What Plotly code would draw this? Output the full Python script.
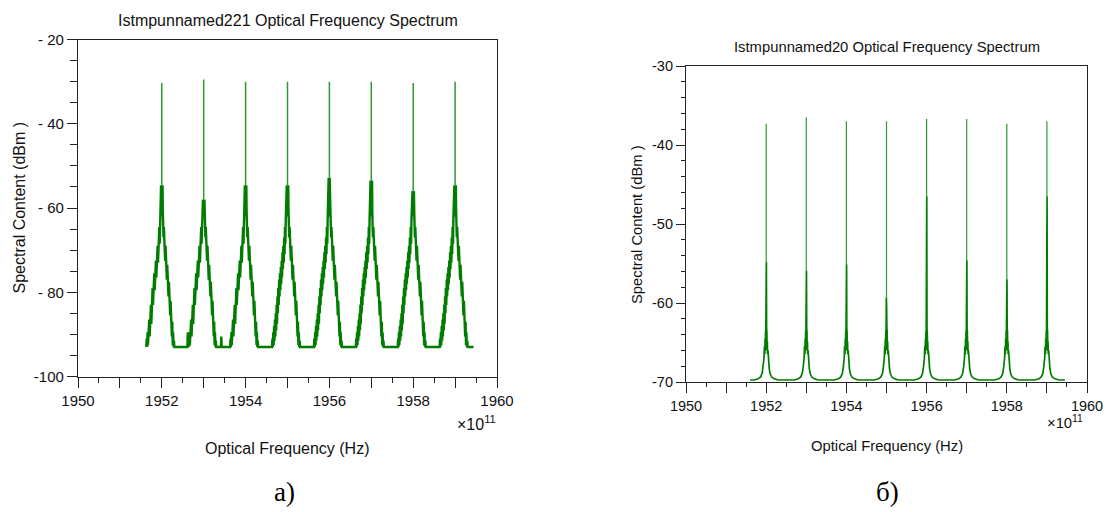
import plotly.graph_objects as go

# ---------------- data ----------------
# frequencies in units of 1e11 Hz
peak_centers = [1952, 1953, 1954, 1955, 1956, 1957, 1958, 1959]

# (a) left spectrum
left_carrier_dbm = [-30.3, -29.5, -30.0, -30.0, -30.0, -30.0, -30.3, -30.0]
left_shoulder_dbm = [-54.6, -58.0, -54.6, -54.6, -52.8, -53.5, -56.0, -54.6]
left_floor_dbm = -93.0
left_span = [1951.63, 1959.44]
# skirt of one comb line (offset from carrier, dBm)
left_skirt_lo_off = [-0.37, -0.36, -0.35, -0.34, -0.33, -0.32, -0.31, -0.30, -0.29, -0.28,
                     -0.27, -0.26, -0.25, -0.24, -0.23, -0.22, -0.21, -0.20, -0.19, -0.18,
                     -0.17, -0.16, -0.15, -0.14, -0.13, -0.12, -0.11, -0.10, -0.09, -0.08,
                     -0.07, -0.06, -0.05, -0.042]
left_skirt_lo_dbm = [-93.0, -91.0, -93.0, -89.5, -92.5, -88.0, -91.5, -86.5, -90.5, -85.0,
                     -89.0, -83.0, -87.5, -81.0, -85.0, -79.0, -83.0, -77.0, -81.0, -75.5,
                     -79.5, -74.0, -78.0, -72.5, -76.5, -70.5, -74.5, -69.0, -73.0, -67.0,
                     -71.0, -64.5, -68.5, -63.0]
# centre of a comb line: "S" = shoulder level of that line
left_core_off = [-0.036, -0.030, -0.024, -0.018, -0.012, -0.006, 0.0, 0.006, 0.012,
                 0.018, 0.024, 0.030]
left_core_dbm = [-60.0, "S", -58.5, "S", -62.0, -60.0, -61.0, "S", -58.0, "S", -60.5, -64.0]
left_skirt_hi_off = [0.04, 0.05, 0.06, 0.07, 0.08, 0.09, 0.10, 0.11, 0.12, 0.13, 0.14,
                     0.15, 0.16, 0.17, 0.18, 0.19, 0.20, 0.21, 0.22, 0.23, 0.24, 0.25,
                     0.26, 0.27, 0.28, 0.29, 0.30]
left_skirt_hi_dbm = [-67.0, -64.5, -70.0, -66.5, -72.5, -69.0, -75.0, -71.5, -77.0, -73.5,
                     -79.0, -75.5, -81.0, -77.5, -83.0, -79.5, -85.5, -82.0, -88.0, -84.5,
                     -90.5, -87.0, -92.5, -89.5, -93.0, -91.5, -93.0]
left_floor_spike_freq = [1952.62, 1953.42]
left_floor_spike_dbm = [-89.5, -90.5]

# (б) right spectrum
right_carrier_dbm = [-37.3, -36.5, -37.0, -37.0, -36.7, -36.7, -37.3, -37.0]
right_shoulder_lo_dbm = [-54.8, -55.9, -55.1, -59.3, -46.5, -54.6, -57.0, -46.5]
right_shoulder_hi_dbm = [-54.8, -55.9, -55.1, -60.7, -46.5, -54.6, -57.0, -46.5]
right_floor_dbm = -69.75
right_span = [1951.6, 1959.45]
right_skirt_lo_off = [-0.30, -0.20, -0.14, -0.10, -0.075, -0.055, -0.045, -0.035, -0.028,
                      -0.022, -0.016]
right_skirt_lo_dbm = [-69.75, -69.6, -69.35, -68.9, -68.0, -67.0, -65.5, -66.5, -64.5,
                      -66.0, -63.5]
right_core_off = [-0.010, -0.004, 0.0, 0.004, 0.010]
right_core_dbm = [-64.0, "L", -62.0, "H", -63.5]   # L / H = shoulder on each side
right_skirt_hi_off = [0.016, 0.022, 0.028, 0.035, 0.045, 0.055, 0.075, 0.10, 0.14, 0.20, 0.30]
right_skirt_hi_dbm = [-63.5, -66.0, -64.8, -66.5, -66.0, -67.3, -68.3, -69.0, -69.4, -69.6,
                      -69.75]

# axes / ticks
left_ytick_vals = [-100, -80, -60, -40, -20]
left_ytick_text = ["-100", "- 80", "- 60", "- 40", "- 20"]
right_ytick_vals = [-70, -60, -50, -40, -30]
right_ytick_text = ["-70", "-60", "-50", "-40", "-30"]
xtick_vals = [1950, 1951, 1952, 1953, 1954, 1955, 1956, 1957, 1958, 1959, 1960]
xtick_text = ["1950", "", "1952", "", "1954", "", "1956", "", "1958", "", "1960"]

title_left = "Istmpunnamed221 Optical Frequency Spectrum"
title_right = "Istmpunnamed20 Optical Frequency Spectrum"
x_title = "Optical Frequency (Hz)"
y_title = "Spectral Content (dBm )"


# ---------------- build series ----------------
def build_left():
    pts = [(left_span[0], left_floor_dbm)]
    cx, cy = [], []
    for c, top, sh in zip(peak_centers, left_carrier_dbm, left_shoulder_dbm):
        for o, d in zip(left_skirt_lo_off, left_skirt_lo_dbm):
            pts.append((c + o, d))
        for o, d in zip(left_core_off, left_core_dbm):
            pts.append((c + o, sh if d == "S" else d))
        for o, d in zip(left_skirt_hi_off, left_skirt_hi_dbm):
            pts.append((c + o, d))
        cx += [c, c, None]
        cy += [sh, top, None]
    for f, d in zip(left_floor_spike_freq, left_floor_spike_dbm):
        pts += [(f - 0.01, left_floor_dbm), (f, d), (f + 0.01, left_floor_dbm)]
    pts.append((left_span[1], left_floor_dbm))
    pts.sort(key=lambda p: p[0])
    return [p[0] for p in pts], [p[1] for p in pts], cx, cy


def build_right():
    pts = [(right_span[0], right_floor_dbm)]
    cx, cy = [], []
    for c, top, sl, sh in zip(peak_centers, right_carrier_dbm,
                              right_shoulder_lo_dbm, right_shoulder_hi_dbm):
        for o, d in zip(right_skirt_lo_off, right_skirt_lo_dbm):
            pts.append((c + o, d))
        for o, d in zip(right_core_off, right_core_dbm):
            pts.append((c + o, sl if d == "L" else (sh if d == "H" else d)))
        for o, d in zip(right_skirt_hi_off, right_skirt_hi_dbm):
            pts.append((c + o, d))
        cx += [c, c, None]
        cy += [max(sl, sh), top, None]
    pts.append((right_span[1], right_floor_dbm))
    pts.sort(key=lambda p: p[0])
    return [p[0] for p in pts], [p[1] for p in pts], cx, cy


lx, ly, lcx, lcy = build_left()
rx, ry, rcx, rcy = build_right()

W, H = 1107, 512


def px(x):
    return x / W


def py(y):
    return 1 - y / H


GREEN = "#007d00"
GREEN_LIGHT = "#2f9a2f"
FONT = "Liberation Sans"
INK = "#111111"

fig = go.Figure()
fig.add_trace(go.Scatter(x=lcx, y=lcy, mode="lines", line=dict(color=GREEN_LIGHT, width=1.5),
                         xaxis="x", yaxis="y", showlegend=False, hoverinfo="skip"))
fig.add_trace(go.Scatter(x=lx, y=ly, mode="lines", line=dict(color=GREEN, width=2.4),
                         xaxis="x", yaxis="y", showlegend=False, hoverinfo="skip"))
fig.add_trace(go.Scatter(x=rcx, y=rcy, mode="lines", line=dict(color=GREEN_LIGHT, width=1.2),
                         xaxis="x2", yaxis="y2", showlegend=False, hoverinfo="skip"))
fig.add_trace(go.Scatter(x=rx, y=ry, mode="lines", line=dict(color=GREEN, width=1.7),
                         xaxis="x2", yaxis="y2", showlegend=False, hoverinfo="skip"))


def axis_common(size):
    return dict(showgrid=False, zeroline=False, showline=True, mirror=True,
                linecolor="#222222", linewidth=1.2, ticks="outside",
                tickcolor="#222222", tickwidth=1.2, automargin=False,
                tickfont=dict(family=FONT, size=size, color=INK))


def minor(dtick, tick0, ln):
    return dict(dtick=dtick, tick0=tick0, ticklen=ln, ticks="outside",
                tickcolor="#222222", tickwidth=1.2)


fig.update_layout(
    width=W, height=H, autosize=False,
    margin=dict(l=0, r=0, t=0, b=0),
    paper_bgcolor="white", plot_bgcolor="white",
    xaxis=dict(domain=[px(78), px(497)], range=[1950, 1960], anchor="y",
               tickmode="array", tickvals=xtick_vals, ticktext=xtick_text, ticklen=10,
               minor=minor(0.5, 1950, 5), **axis_common(15)),
    yaxis=dict(domain=[py(376.5), py(39.5)], range=[-100, -20], anchor="x",
               tickmode="array", tickvals=left_ytick_vals, ticktext=left_ytick_text,
               ticklen=10, minor=minor(5, -100, 7), **axis_common(15)),
    xaxis2=dict(domain=[px(686), px(1087)], range=[1950, 1960], anchor="y2",
                tickmode="array", tickvals=xtick_vals, ticktext=xtick_text, ticklen=10,
                minor=minor(0.5, 1950, 4), **axis_common(14.5)),
    yaxis2=dict(domain=[py(382), py(66)], range=[-70, -30], anchor="x2",
                tickmode="array", tickvals=right_ytick_vals, ticktext=right_ytick_text,
                ticklen=9, minor=minor(2, -70, 4), **axis_common(14.5)),
)

fl = dict(family=FONT, size=16, color=INK)
fr = dict(family=FONT, size=14.8, color=INK)
ann = [
    dict(x=px(287.5), y=py(20), text=title_left, font=fl),
    dict(x=px(886.5), y=py(47), text=title_right, font=fr),
    dict(x=px(287.5), y=py(448), text=x_title, font=fl),
    dict(x=px(886.5), y=py(446), text=x_title, font=fr),
    dict(x=px(476), y=py(423), text="×10<sup>11</sup>", font=fl),
    dict(x=px(1065), y=py(422), text="×10<sup>11</sup>", font=fr),
    dict(x=px(18.5), y=py(208), text=y_title, textangle=-90, font=fl),
    dict(x=px(637), y=py(224), text=y_title, textangle=-90, font=fr),
]
for a in ann:
    fig.add_annotation(xref="paper", yref="paper", showarrow=False,
                       xanchor="center", yanchor="middle", **a)

lab_font = dict(family="Liberation Serif", size=27, color="black")
fig.add_annotation(xref="paper", yref="paper", x=px(284), y=py(492), text="а)",
                   showarrow=False, xanchor="center", yanchor="middle", font=lab_font)
fig.add_annotation(xref="paper", yref="paper", x=px(887), y=py(492), text="б)",
                   showarrow=False, xanchor="center", yanchor="middle", font=lab_font)

fig.write_html("out.html", config={"displayModeBar": False},
               post_script="document.body.style.margin='0px';"
                           "document.body.style.overflow='hidden';")
